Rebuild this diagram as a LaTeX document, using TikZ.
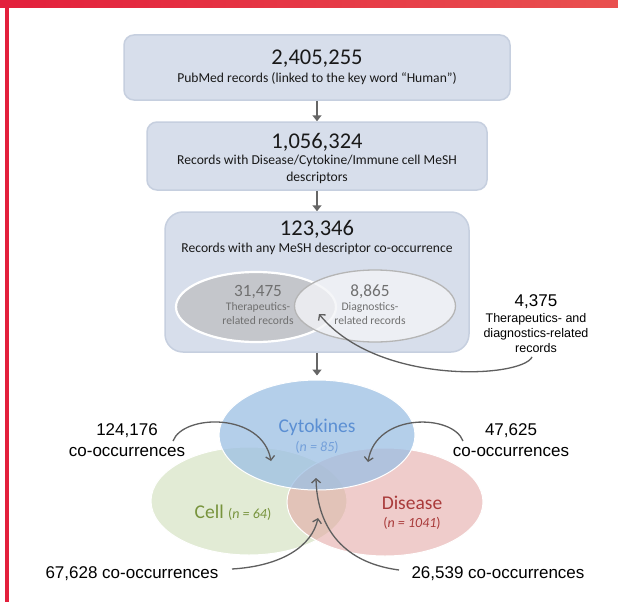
\documentclass[tikz,border=0pt]{standalone}
\usepackage{fontspec}
\setmainfont{Carlito}
\newfontfamily\arialf{Liberation Sans}
\usetikzlibrary{arrows.meta,shapes.geometric}
\definecolor{boxfill}{HTML}{D7DEEB}
\definecolor{boxline}{HTML}{C6CFDF}
\definecolor{redbar}{HTML}{E3203C}
\definecolor{redbarR}{HTML}{E9504F}
\definecolor{arrowgray}{HTML}{666666}
\definecolor{curvegray}{HTML}{5F5F5F}
\definecolor{therfill}{HTML}{C4C6CB}
\definecolor{diagfill}{HTML}{F3F4F7}
\definecolor{diagline}{HTML}{B5B5B5}
\definecolor{smalltext}{HTML}{707070}
\definecolor{cytofill}{HTML}{9CBFE4}
\definecolor{cellfill}{HTML}{C6D9AD}
\definecolor{disfill}{HTML}{E3A3A1}
\definecolor{cytotext}{HTML}{5B8FD3}
\definecolor{celltext}{HTML}{77933C}
\definecolor{distext}{HTML}{A93A3A}
\begin{document}
\begin{tikzpicture}[x=1pt,y=-1pt,
  box/.style={draw=boxline, line width=1.5pt, fill=boxfill, rounded corners=10pt, inner sep=0pt},
  bignum/.style={font=\fontsize{22.5}{26}\selectfont, text=black!90, inner sep=0pt},
  boxtxt/.style={font=\fontsize{13.6}{17}\selectfont, text=black!90, inner sep=0pt, align=center},
  varrow/.style={draw=arrowgray, line width=2.5pt, -{Triangle[length=6pt,width=9pt]}},
  carrow/.style={draw=curvegray, line width=1.3pt, -{Straight Barb[length=4pt,width=9pt]}},
  vset/.style={ellipse, draw=white, line width=1pt, inner sep=0pt, minimum width=196pt, minimum height=110pt},
  lbl/.style={font=\arialf\fontsize{17}{21}\selectfont, inner sep=0pt, align=center},
  smnum/.style={font=\fontsize{17.2}{20}\selectfont, text=smalltext, inner sep=0pt},
  smtxt/.style={font=\fontsize{11.6}{14}\selectfont, text=smalltext, inner sep=0pt, align=center},
]
\useasboundingbox (0,0) rectangle (618,602);
\fill[white] (0,0) rectangle (618,602);
\shade[left color=redbar, right color=redbarR] (0,0) rectangle (618,7.5);
\fill[redbar] (5,0) rectangle (9,602);

% boxes
\node[box, minimum width=386pt, minimum height=65pt] (b1) at (317,67.5) {};
\node[box, minimum width=340pt, minimum height=68pt] (b2) at (317,156) {};
\node[box, rounded corners=18pt, minimum width=304pt, minimum height=140pt] (b3) at (317,282) {};

\node[bignum] (n1) at (317,59) {2,405,255};
\node[boxtxt] (t1) at (317,79) {PubMed records (linked to the key word “Human”)};
\node[bignum] (n2) at (317,142) {1,056,324};
\node[boxtxt] (t2) at (317,169.5) {Records with Disease/Cytokine/Immune cell MeSH\\descriptors};
\node[bignum] (n3) at (317,229) {123,346};
\node[boxtxt] (t3) at (317,249) {Records with any MeSH descriptor co-occurrence};

% inner ellipses
\node[ellipse, fill=therfill, draw=white, line width=2.2pt, minimum width=160pt, minimum height=70pt, inner sep=0pt] (ther) at (256,307) {};
\node[ellipse, fill=diagfill, fill opacity=0.8, draw=diagline, draw opacity=1, line width=1.3pt, minimum width=161pt, minimum height=72pt, inner sep=0pt] (diag) at (375,306) {};
\node[smnum] (tn) at (258,292) {31,475};
\node[smtxt] (tt) at (258,314) {Therapeutics-\\related records};
\node[smnum] (dn) at (370,292) {8,865};
\node[smtxt] (dt) at (370,314) {Diagnostics-\\related records};

\draw[varrow] (b1.south) -- (b2.north);
\draw[varrow] (b2.south) -- (b3.north);

% 4,375 label
\node[font=\arialf\fontsize{17}{20}\selectfont, inner sep=0pt] (bn) at (536,302) {4,375};
\node[font=\arialf\fontsize{12.5}{15}\selectfont, inner sep=0pt, align=center] (bt) at (536,333) {Therapeutics- and\\diagnostics-related\\records};
\coordinate (bstart) at (532,357);
\coordinate (btip) at (319,314);
\draw[carrow] (bstart) .. controls (522,378) and (378,386) .. (btip);

% Venn
\node[vset, fill=cellfill, fill opacity=0.5, minimum height=108pt] (cell) at (249,501) {};
\node[vset, fill=disfill, fill opacity=0.55, minimum height=108pt] (dis) at (385,502) {};
\node[vset, fill=cytofill, fill opacity=0.75] (cyto) at (317,435) {};
\draw[varrow, shorten >=4pt] (b3.south) -- (cyto.north);

\node[font=\fontsize{19.5}{23}\selectfont, text=cytotext, inner sep=0pt] (cyt) at (317,427) {Cytokines};
\node[font=\fontsize{14}{17}\selectfont, text=cytotext!85, inner sep=0pt] (cyn) at (317,447) {(\textit{n = 85})};
\node[text=celltext, inner sep=0pt, anchor=base] (cel) at (233,518) {\fontsize{19.5}{23}\selectfont Cell \fontsize{14}{17}\selectfont(\textit{n = 64})};
\node[font=\fontsize{19.5}{23}\selectfont, text=distext, inner sep=0pt] (dit) at (412,503) {Disease};
\node[font=\fontsize{14}{17}\selectfont, text=distext, inner sep=0pt] (din) at (412,523) {(\textit{n = 1041})};

% labels
\node[lbl] (l1) at (127,440.5) {124,176\\co-occurrences};
\node[lbl] (l2) at (511,440.5) {47,625\\co-occurrences};
\node[lbl] (l3) at (132,574) {67,628 co-occurrences};
\node[lbl] (l4) at (498,574) {26,539 co-occurrences};

\coordinate (s1) at (173,441);
\coordinate (e1) at (271,461);
\coordinate (s2) at (463,441);
\coordinate (e2) at (368,462);
\coordinate (s3) at (232,569);
\coordinate (e3) at (318,518);
\coordinate (s4) at (399,570);
\coordinate (e4) at (316,478);
\draw[carrow] (s1) .. controls (183,414) and (262,412) .. (e1);
\draw[carrow] (s2) .. controls (453,414) and (376,412) .. (e2);
\draw[carrow] (s3) .. controls (282,566) and (312,546) .. (e3);
\draw[carrow] (s4) .. controls (338,562) and (317,522) .. (e4);
\end{tikzpicture}
\end{document}
